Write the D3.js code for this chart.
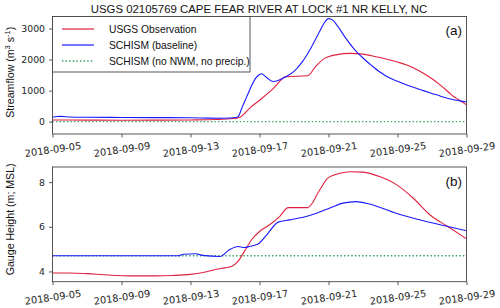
<!DOCTYPE html>
<html><head><meta charset="utf-8">
<script src="https://cdn.jsdelivr.net/npm/d3@7"></script>
<style>
html,body{margin:0;padding:0;background:#fff;}
svg{display:block;}
</style></head>
<body>
<svg id="chart" width="500" height="308"></svg>
<script>
// ---------------- data ----------------
const titleText = "USGS 02105769 CAPE FEAR RIVER AT LOCK #1 NR KELLY, NC";
const seriesNames = ["USGS Observation", "SCHISM (baseline)", "SCHISM (no NWM, no precip.)"];
const xTickDates = ["2018-09-05","2018-09-09","2018-09-13","2018-09-17","2018-09-21","2018-09-25","2018-09-29"];
const flowTicks = [0, 1000, 2000, 3000];
const gaugeTicks = [4, 6, 8];

// Streamflow (m3/s)
const flowObs = [
 ["2018-09-05 00:00",55],["2018-09-07 00:00",50],["2018-09-09 00:00",45],["2018-09-11 00:00",48],
 ["2018-09-13 00:00",55],["2018-09-14 12:00",70],["2018-09-15 12:00",100],["2018-09-15 18:00",115],
 ["2018-09-16 12:00",470],["2018-09-17 00:00",690],["2018-09-17 18:00",1040],["2018-09-18 13:00",1450],
 ["2018-09-19 19:00",1480],["2018-09-20 06:00",1770],["2018-09-20 18:00",2030],["2018-09-21 12:00",2160],
 ["2018-09-22 06:00",2200],["2018-09-23 00:00",2175],["2018-09-23 12:00",2125],["2018-09-24 00:00",2065],
 ["2018-09-24 12:00",1995],["2018-09-25 00:00",1920],["2018-09-25 12:00",1835],["2018-09-26 00:00",1710],
 ["2018-09-26 12:00",1560],["2018-09-27 00:00",1380],["2018-09-27 12:00",1170],["2018-09-28 00:00",930],
 ["2018-09-28 06:00",810],["2018-09-28 12:00",720],["2018-09-29 00:00",540]
];
const flowBase = [
 ["2018-09-05 00:00",140],["2018-09-05 06:00",165],["2018-09-05 12:00",170],["2018-09-06 00:00",150],
 ["2018-09-07 00:00",140],["2018-09-09 00:00",135],["2018-09-11 00:00",130],["2018-09-13 00:00",125],
 ["2018-09-14 00:00",115],["2018-09-15 00:00",110],["2018-09-15 12:00",125],["2018-09-15 18:00",160],
 ["2018-09-16 00:00",470],["2018-09-16 06:00",790],["2018-09-16 12:00",1110],["2018-09-16 18:00",1380],
 ["2018-09-17 00:00",1520],["2018-09-17 03:00",1545],["2018-09-17 06:00",1500],["2018-09-17 12:00",1380],
 ["2018-09-17 19:00",1295],["2018-09-18 00:00",1310],["2018-09-18 12:00",1440],["2018-09-19 00:00",1620],
 ["2018-09-19 12:00",1940],["2018-09-20 00:00",2390],["2018-09-20 12:00",2920],["2018-09-20 18:00",3180],
 ["2018-09-21 00:00",3320],["2018-09-21 06:00",3270],["2018-09-21 12:00",3100],["2018-09-22 00:00",2690],
 ["2018-09-22 12:00",2330],["2018-09-23 00:00",2050],["2018-09-23 12:00",1810],["2018-09-24 00:00",1590],
 ["2018-09-24 12:00",1420],["2018-09-25 00:00",1300],["2018-09-25 12:00",1190],["2018-09-26 00:00",1090],
 ["2018-09-26 12:00",1000],["2018-09-27 00:00",910],["2018-09-27 12:00",820],["2018-09-28 00:00",740],
 ["2018-09-28 12:00",680],["2018-09-29 00:00",635]
];
const flowNoNwm = [["2018-09-05 00:00",0],["2018-09-29 00:00",0]];

// Gauge height (m; MSL)
const gaugeObs = [
 ["2018-09-05 00:00",3.93],["2018-09-06 00:00",3.93],["2018-09-07 00:00",3.90],["2018-09-08 00:00",3.85],
 ["2018-09-09 00:00",3.81],["2018-09-10 00:00",3.80],["2018-09-11 00:00",3.80],["2018-09-12 00:00",3.82],
 ["2018-09-13 00:00",3.87],["2018-09-13 12:00",3.92],["2018-09-14 00:00",4.00],["2018-09-14 12:00",4.10],
 ["2018-09-15 00:00",4.16],["2018-09-15 09:00",4.22],["2018-09-15 18:00",4.45],["2018-09-16 03:00",4.90],
 ["2018-09-16 13:00",5.42],["2018-09-17 00:00",5.79],["2018-09-17 14:00",6.09],["2018-09-18 04:00",6.46],
 ["2018-09-18 16:00",6.86],["2018-09-19 19:00",6.86],["2018-09-20 12:00",7.66],["2018-09-20 23:00",8.18],
 ["2018-09-21 16:00",8.40],["2018-09-22 06:00",8.47],["2018-09-23 00:00",8.45],["2018-09-23 23:00",8.25],
 ["2018-09-24 23:00",7.88],["2018-09-25 22:00",7.28],["2018-09-26 21:00",6.54],["2018-09-27 22:00",6.01],
 ["2018-09-29 00:00",5.46]
];
const gaugeBase = [
 ["2018-09-05 00:00",4.70],["2018-09-12 07:00",4.70],["2018-09-12 14:00",4.77],["2018-09-13 07:00",4.79],
 ["2018-09-13 17:00",4.72],["2018-09-14 17:00",4.67],["2018-09-15 06:00",4.97],["2018-09-15 18:00",5.12],
 ["2018-09-16 03:00",5.07],["2018-09-16 10:00",5.12],["2018-09-16 22:00",5.23],["2018-09-17 10:00",5.64],
 ["2018-09-18 02:00",6.21],["2018-09-18 18:00",6.31],["2018-09-19 22:00",6.51],["2018-09-21 02:00",6.84],
 ["2018-09-21 20:00",7.06],["2018-09-22 14:00",7.13],["2018-09-23 09:00",7.02],["2018-09-24 22:00",6.61],
 ["2018-09-26 12:00",6.27],["2018-09-27 22:00",6.01],["2018-09-29 00:00",5.82]
];
const gaugeNoNwm = [["2018-09-05 00:00",4.70],["2018-09-29 00:00",4.70]];

// ---------------- drawing ----------------
const parseT = d3.utcParse("%Y-%m-%d %H:%M");
const parseD = d3.utcParse("%Y-%m-%d");
const fmt = d3.utcFormat("%Y-%m-%d");
const colors = ["#e0203f", "#1a1aff", "#2f9e5a"];
const svg = d3.select("#chart");

const L = 52.5, R = 466.5;
const x = d3.scaleUtc().domain([parseD("2018-09-05"), parseD("2018-09-29")]).range([L, R]);

const panels = [
  {top:16.5, bot:134, dom:[-398, 3388], ticks:flowTicks, series:[flowObs, flowBase, flowNoNwm],
   ylabel:"flow", tag:"(a)"},
  {top:167, bot:281.7, dom:[3.54, 8.68], ticks:gaugeTicks, series:[gaugeObs, gaugeBase, gaugeNoNwm],
   ylabel:"Gauge Height (m; MSL)", tag:"(b)"}
];

panels.forEach((p, pi) => {
  const y = d3.scaleLinear().domain(p.dom).range([p.bot, p.top]);
  const g = svg.append("g");
  const clipId = "clip" + pi;
  svg.append("clipPath").attr("id", clipId).append("rect")
    .attr("x", L).attr("y", p.top).attr("width", R - L).attr("height", p.bot - p.top);

  const line = d3.line().curve(d3.curveMonotoneX)
    .x(d => x(parseT(d[0]))).y(d => y(d[1]));

  const plot = g.append("g").attr("clip-path", `url(#${clipId})`);
  [2, 0, 1].forEach(si => {
    plot.append("path").datum(p.series[si])
      .attr("d", line)
      .attr("fill", "none")
      .attr("stroke", colors[si])
      .attr("stroke-width", si === 2 ? 1.4 : 1.1)
      .attr("stroke-dasharray", si === 2 ? "1.4,2.2" : null);
  });

  const xAxis = d3.axisBottom(x).tickValues(xTickDates.map(parseD)).tickFormat(fmt)
    .tickSizeOuter(0).tickSizeInner(3.5).tickPadding(3);
  const gx = g.append("g").attr("transform", `translate(0,${p.bot})`).call(xAxis);
  gx.select(".domain").remove();
  gx.selectAll(".tick line").attr("stroke", "#333").attr("stroke-width", 0.8);
  gx.selectAll(".tick text")
    .attr("font-family", "DejaVu Sans").attr("font-size", 9.8).attr("fill", "#222")
    .attr("y", 0).attr("dy", null)
    .attr("text-anchor", "middle").attr("dominant-baseline", "central")
    .attr("transform", "translate(0,15.5) rotate(-8)");

  const yAxis = d3.axisLeft(y).tickValues(p.ticks).tickFormat(d3.format("d"))
    .tickSizeOuter(0).tickSizeInner(3.5).tickPadding(4);
  const gy = g.append("g").attr("transform", `translate(${L},0)`).call(yAxis);
  gy.select(".domain").remove();
  gy.selectAll(".tick line").attr("stroke", "#333").attr("stroke-width", 0.8);
  gy.selectAll(".tick text").attr("font-family", "DejaVu Sans").attr("font-size", 9.3).attr("fill", "#222");

  g.append("rect").attr("x", L).attr("y", p.top).attr("width", R - L).attr("height", p.bot - p.top)
    .attr("fill", "none").attr("stroke", "#444").attr("stroke-width", 0.9);

  g.append("text").attr("x", 462).attr("y", p.top + 18.5).attr("text-anchor", "end")
    .attr("font-family", "Liberation Sans, Arial, sans-serif").attr("font-size", 13.5).attr("fill", "#111")
    .text(p.tag);

  const cy = (p.top + p.bot) / 2 - (pi === 0 ? 3 : 5);
  const yl = g.append("text").attr("transform", `translate(14,${cy}) rotate(-90)`)
    .attr("text-anchor", "middle")
    .attr("font-family", "Liberation Sans, Arial, sans-serif").attr("font-size", 10.6).attr("fill", "#111");
  if (p.ylabel === "flow") {
    yl.append("tspan").text("Streamflow (m");
    yl.append("tspan").attr("baseline-shift", "super").attr("font-size", 7.5).text("3");
    yl.append("tspan").text(" s");
    yl.append("tspan").attr("baseline-shift", "super").attr("font-size", 7.5).text("-1");
    yl.append("tspan").text(")");
  } else {
    yl.text(p.ylabel);
  }

  if (pi === 0) {
    const lg = g.append("g");
    lg.append("rect").attr("x", L).attr("y", p.top).attr("width", 250 - L).attr("height", 72 - p.top)
      .attr("fill", "#fff").attr("stroke", "#444").attr("stroke-width", 0.9);
    seriesNames.forEach((name, i) => {
      const yy = 29 + i * 16;
      lg.append("line").attr("x1", 62).attr("x2", 94).attr("y1", yy).attr("y2", yy)
        .attr("stroke", colors[i]).attr("stroke-width", i === 2 ? 1.4 : 1.2)
        .attr("stroke-dasharray", i === 2 ? "1.4,2.2" : null);
      lg.append("text").attr("x", 109).attr("y", yy + 3.6)
        .attr("font-family", "Liberation Sans, Arial, sans-serif").attr("font-size", 10.3).attr("fill", "#111")
        .text(name);
    });
  }
});

svg.append("text").attr("x", 259).attr("y", 13).attr("text-anchor", "middle")
  .attr("font-family", "Liberation Sans, Arial, sans-serif").attr("font-size", 11.4).attr("fill", "#111")
  .text(titleText);
</script>
</body></html>
